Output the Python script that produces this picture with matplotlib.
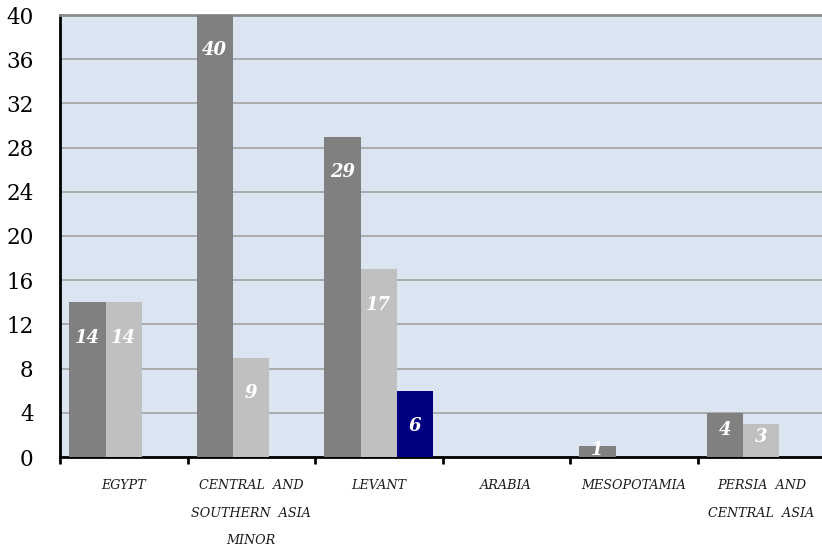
import numpy as np
import matplotlib.pyplot as plt
from matplotlib.ticker import FixedLocator

# Data
regions = ["EGYPT", "CENTRAL  AND\nSOUTHERN  ASIA\nMINOR", "LEVANT", "ARABIA",
           "MESOPOTAMIA", "PERSIA  AND\nCENTRAL  ASIA"]
series_a = [14, 40, 29, 0, 1, 4]
series_b = [14, 9, 17, 0, 0, 3]
series_c = [0, 0, 6, 0, 0, 0]
yticks = [0, 4, 8, 12, 16, 20, 24, 28, 32, 36, 40]

colors = ["#808080", "#c0c0c0", "#000080"]
serif = "DejaVu Serif"

fig = plt.figure(figsize=(8.22, 5.52), dpi=100)
ax = fig.add_axes([60/822, 95/552, 765/822, 442/552])
ax.set_facecolor("#dbe5f1")

x = np.arange(len(regions)) + 0.5
w = 0.286
for j, vals in enumerate([series_a, series_b, series_c]):
    pos = x + (j - 1) * w
    ax.bar(pos, vals, width=w, color=colors[j], zorder=3)
    for p, v in zip(pos, vals):
        if v == 0:
            continue
        # label sits a bit below the top, or mid-bar for short bars
        ly = v - 3.2 if v >= 6 else v * 0.6
        ax.text(p, ly, str(v), ha="center", va="center", color="white",
                fontsize=13, fontstyle="italic", fontweight="bold",
                family=serif, zorder=4)

ax.set_xlim(0, 6)
ax.set_ylim(0, 40)
ax.set_yticks(yticks)
ax.set_yticklabels([str(t) for t in yticks], fontsize=15.5, family=serif)
ax.yaxis.grid(True, color="#a6a6a6", linewidth=1.3, zorder=1)
ax.tick_params(axis="y", length=0, pad=19)

ax.xaxis.set_major_locator(FixedLocator(np.arange(0, 7)))
ax.xaxis.set_minor_locator(FixedLocator(x))
ax.set_xticklabels([])
ax.set_xticklabels(regions, minor=True, fontsize=9.2, fontstyle="italic",
                   family=serif, linespacing=2.45, va="top", color="#1a1a1a")
ax.tick_params(axis="x", which="major", length=5, width=2, color="black")
ax.tick_params(axis="x", which="minor", length=0, pad=16)

for s in ["left", "bottom"]:
    ax.spines[s].set_color("black")
    ax.spines[s].set_linewidth(2)
ax.spines["top"].set_color("#8c8c8c")
ax.spines["top"].set_linewidth(2)
ax.spines["right"].set_visible(False)

fig.savefig("out.png", dpi=100)
